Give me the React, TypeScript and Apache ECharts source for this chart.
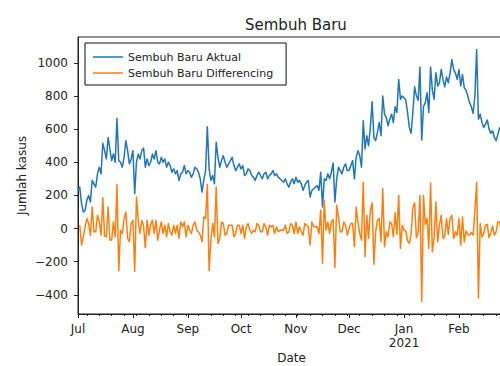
import React, { useEffect, useRef } from 'react';
import * as echarts from 'echarts';

// Daily recovered cases ("Sembuh Baru"), starting 1 July 2020
const startDate = '2020-07-01';

const aktual = [
  // Jul
  230, 250, 150, 100, 110, 170, 200, 160, 290, 270, 250, 330, 370, 330, 515, 470, 420, 550, 480, 410, 450, 400, 665, 410, 400, 370, 430, 530, 470, 390, 420,
  // Aug
  470, 210, 400, 450, 420, 470, 485, 370, 420, 380, 400, 450, 420, 470, 400, 390, 430, 400, 420, 370, 400, 380, 340, 360, 330, 350, 290, 330, 340, 380, 330,
  // Sep
  350, 340, 310, 330, 370, 360, 340, 300, 220, 290, 350, 615, 360, 290, 320, 270, 520, 430, 370, 410, 440, 400, 370, 390, 410, 430, 380, 350, 370, 390,
  // Oct
  360, 380, 320, 330, 360, 350, 320, 310, 290, 320, 340, 320, 300, 330, 340, 300, 320, 330, 350, 320, 330, 310, 300, 290, 280, 300, 270, 250, 280, 300, 270,
  // Nov
  310, 280, 290, 270, 230, 260, 280, 290, 190, 230, 240, 250, 260, 230, 340, 130, 300, 290, 330, 300, 340, 395, 160, 300, 370, 350, 330, 370, 390, 350,
  // Dec
  350, 380, 410, 300, 430, 470, 440, 370, 650, 480, 560, 500, 610, 765, 550, 530, 580, 640, 560, 800, 690, 670, 620, 660, 690, 640, 735, 700, 900, 780, 800,
  // Jan
  790, 775, 700, 610, 575, 700, 855, 800, 775, 975, 535, 735, 760, 820, 700, 975, 835, 780, 940, 860, 880, 960, 900, 855, 915, 880, 940, 1020, 960, 940, 900,
  // Feb
  960, 860, 930, 850, 835, 800, 760, 735, 695, 800, 1080, 660, 690, 640, 610, 630, 655, 600, 575, 590, 550, 530, 570, 610, 580, 600, 630,
];

// First difference of the daily series (day-over-day change)
const differencing = [
  // Jul
  null, 20, -100, -50, 10, 60, 30, -40, 130, -20, -20, 80, 40, -40, 185, -45, -50, 130, -70, -70, 40, -50, 265, -255, -10, -30, 60, 100, -60, -80, 30,
  // Aug
  50, -260, 190, 50, -30, 50, 15, -115, 50, -40, 20, 50, -30, 50, -70, -10, 40, -30, 20, -50, 30, -20, -40, 20, -30, 20, -60, 40, 10, 40, -50,
  // Sep
  20, -10, -30, 20, 40, -10, -20, -40, -80, 70, 60, 265, -255, -70, 30, -50, 250, -90, -60, 40, 30, -40, -30, 20, 20, 20, -50, -30, 20, 20,
  // Oct
  -30, 20, -60, 10, 30, -10, -30, -10, -20, 30, 20, -20, -20, 30, 10, -40, 20, 10, 20, -30, 10, -20, -10, -10, -10, 20, -30, -20, 30, 20, -30,
  // Nov
  40, -30, 10, -20, -40, 30, 20, 10, -100, 40, 10, 10, 10, -30, 110, -210, 170, -10, 40, -30, 40, 55, -235, 140, 70, -20, -20, 40, 20, -40,
  // Dec
  0, 30, 30, -110, 130, 40, -30, -70, 280, -170, 80, -60, 110, 155, -215, -20, 50, 60, -80, 240, -110, -20, -50, 40, 30, -50, 95, -35, 200, -120, 20,
  // Jan
  -10, -15, -75, -90, -35, 125, 155, -55, -25, 200, -440, 200, 25, 60, -120, 275, -140, -55, 160, -80, 20, 80, -60, -45, 60, -35, 60, 80, -60, -20, -40,
  // Feb
  60, -100, 70, -80, -15, -35, -40, -25, -40, 105, 280, -420, 30, -50, -30, 20, 25, -55, -25, 15, -40, -20, 40, 40, -30, 20, 30,
];

const monthTicks = ['2020-07-01', '2020-08-01', '2020-09-01', '2020-10-01', '2020-11-01', '2020-12-01', '2021-01-01', '2021-02-01'];
const monthLabels = ['Jul', 'Aug', 'Sep', 'Oct', 'Nov', 'Dec', 'Jan\n2021', 'Feb'];
const firstMonday = '2020-07-06';
const yTicks = [-400, -200, 0, 200, 400, 600, 800, 1000];

const seriesNames = ['Sembuh Baru Aktual', 'Sembuh Baru Differencing'];
const colors = ['#1f77b4', '#ff7f0e'];

const DAY = 86400000;
const t0 = Date.parse(startDate);
const dates = aktual.map((_, i) => t0 + i * DAY);
const tMin = dates[0];
const tMax = dates[dates.length - 1];
const monthTimes = monthTicks.map((d) => Date.parse(d));
const weekTimes: number[] = [];
for (let t = Date.parse(firstMonday); t <= tMax; t += 7 * DAY) weekTimes.push(t);

const FONT = 'DejaVu Sans';
const INK = '#222';

export default function App() {
  const ref = useRef<HTMLDivElement>(null);

  useEffect(() => {
    if (!ref.current) return;
    const chart = echarts.init(ref.current, undefined, { renderer: 'svg' });

    const monthLabel = (v: number) => {
      const i = monthTimes.findIndex((m) => Math.abs(m - v) < DAY / 2);
      return i >= 0 ? monthLabels[i] : '';
    };

    chart.setOption({
      animation: false,
      backgroundColor: '#fff',
      textStyle: { fontFamily: FONT },
      title: {
        text: 'Sembuh Baru',
        left: 240,
        top: 12,
        textStyle: { fontSize: 15, fontWeight: 'normal', color: INK, fontFamily: FONT },
      },
      legend: {
        left: 85,
        top: 43,
        orient: 'vertical',
        backgroundColor: '#fff',
        borderColor: '#111',
        borderWidth: 1,
        borderRadius: 0,
        padding: [7.5, 13, 5.5, 8],
        itemGap: 3,
        itemWidth: 30,
        itemHeight: 1.5,
        icon: 'rect',
        textStyle: { fontSize: 11, lineHeight: 13, color: INK, fontFamily: FONT },
        data: seriesNames.map((name, i) => ({ name, icon: 'rect', itemStyle: { color: colors[i] } })),
      },
      grid: {
        left: 78,
        top: 37,
        right: -5,
        bottom: 52,
        show: true,
        borderColor: INK,
        borderWidth: 1,
        backgroundColor: 'transparent',
        containLabel: false,
        outerBoundsMode: 'none',
      },
      xAxis: [
        {
          type: 'value',
          min: tMin,
          max: tMax,
          name: 'Date',
          nameLocation: 'middle',
          nameGap: 38,
          nameMoveOverlap: false,
          nameTextStyle: { fontSize: 12, lineHeight: 12, color: INK, fontFamily: FONT },
          axisLine: { show: true, onZero: false, lineStyle: { color: INK, width: 1 } },
          axisTick: { show: true, customValues: monthTimes, length: 4, lineStyle: { color: INK, width: 1 } },
          axisLabel: {
            customValues: monthTimes,
            formatter: monthLabel,
            fontSize: 12,
            lineHeight: 14,
            color: INK,
            fontFamily: FONT,
            margin: 8,
          },
          splitLine: { show: false },
        },
        {
          type: 'value',
          min: tMin,
          max: tMax,
          position: 'bottom',
          axisLine: { show: false, onZero: false },
          axisTick: { show: true, customValues: weekTimes, length: 2, lineStyle: { color: INK, width: 1 } },
          axisLabel: { show: false },
          splitLine: { show: false },
        },
      ],
      yAxis: {
        type: 'value',
        min: -516,
        max: 1156,
        name: 'Jumlah kasus',
        nameLocation: 'middle',
        nameGap: 50,
        nameMoveOverlap: false,
        nameTextStyle: { fontSize: 12, color: INK, fontFamily: FONT },
        axisLine: { show: true, lineStyle: { color: INK, width: 1 } },
        axisTick: { show: true, customValues: yTicks, length: 4, lineStyle: { color: INK, width: 1 } },
        axisLabel: {
          customValues: yTicks,
          formatter: (v: number) => (v < 0 ? '\u2212' + Math.abs(v) : String(v)),
          fontSize: 12,
          color: INK,
          fontFamily: FONT,
          margin: 10,
        },
        splitLine: { show: false },
      },
      series: [
        {
          name: seriesNames[0],
          type: 'line',
          data: dates.map((t, i) => [t, aktual[i]]),
          symbol: 'none',
          showSymbol: false,
          lineStyle: { width: 1.5, color: colors[0], join: 'round' },
          itemStyle: { color: colors[0] },
        },
        {
          name: seriesNames[1],
          type: 'line',
          data: dates.map((t, i) => [t, differencing[i]]),
          symbol: 'none',
          showSymbol: false,
          connectNulls: false,
          lineStyle: { width: 1.5, color: colors[1], join: 'round' },
          itemStyle: { color: colors[1] },
        },
      ],
    });

    return () => chart.dispose();
  }, []);

  return (
    <div
      ref={ref}
      style={{ position: 'fixed', left: 0, top: 0, width: 500, height: 366, background: '#fff' }}
    />
  );
}
